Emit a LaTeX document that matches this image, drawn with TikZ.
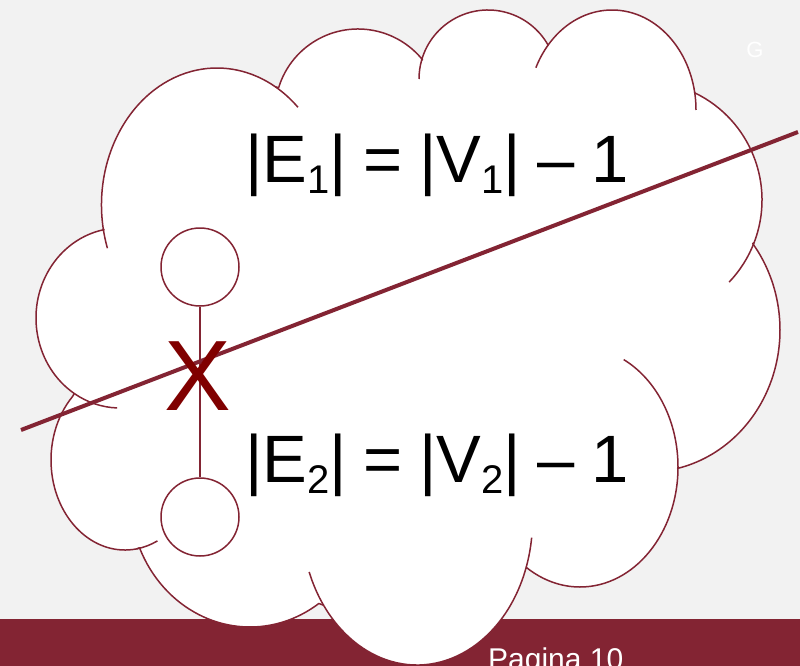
\documentclass[tikz,border=0pt]{standalone}
\usepackage{fontspec}
\setmainfont{Liberation Sans}
\usepackage{xcolor}

\definecolor{maroon}{RGB}{131,36,51}
\definecolor{xred}{RGB}{128,0,0}
\definecolor{slidebg}{RGB}{242,242,242}
\newcommand{\subs}[1]{\raisebox{-11pt}{\fontsize{40}{40}\selectfont #1}}
\newcommand{\eqspace}{\spaceskip=16.5pt\relax}

\begin{document}
\begin{tikzpicture}[x=1pt, y=-1pt, line join=round,
  cloudline/.style={draw=maroon, line width=1.5pt},
  vertex/.style={circle, draw=maroon, fill=white, line width=1.5pt, minimum size=78pt, inner sep=0pt},
  eqtext/.style={anchor=base west, inner sep=0pt, font=\fontsize{67}{67}\selectfont\eqspace}]
  \useasboundingbox (0,0) rectangle (800,666);
  \clip (0,0) rectangle (800,666);

  % Slide background and footer bar
  \fill[slidebg] (0,0) rectangle (800,666);
  \fill[maroon] (0,619) rectangle (800,666);

  % Lobe centres of the cloud
  \coordinate (cA) at (217,205);
  \coordinate (cB) at (358,112);
  \coordinate (cC) at (488,79);
  \coordinate (cD) at (612,110);
  \coordinate (cE) at (643,200);
  \coordinate (cF) at (648,330);
  \coordinate (cG) at (580,467);
  \coordinate (cH) at (417,520);
  \coordinate (cI) at (250,497);
  \coordinate (cJ) at (125,460);
  \coordinate (cK) at (120,318);

  % Cloud outline, lobe by lobe (clockwise from the upper left)
  \filldraw[fill=white, cloudline]
    ([shift={(cA)}]170:115.5 and 137) arc[start angle=170, end angle=300.4, x radius=115.5, y radius=137]
    -- ([shift={(cB)}]197:83) arc[start angle=197, end angle=321, radius=83]
    -- ([shift={(cC)}]196:69) arc[start angle=196, end angle=330.5, radius=69]
    -- ([shift={(cD)}]220:84 and 100) arc[start angle=220, end angle=350, x radius=84, y radius=100]
    -- ([shift={(cE)}]296:119) arc[start angle=296, end angle=381, radius=119]
    -- ([shift={(cF)}]322.5:132 and 142) arc[start angle=322.5, end angle=437, x radius=132, y radius=142]
    -- ([shift={(cG)}]0:98 and 120) arc[start angle=0, end angle=122.7, x radius=98, y radius=120]
    -- ([shift={(cH)}]19:115.5 and 145) arc[start angle=19, end angle=144, x radius=115.5, y radius=145]
    -- ([shift={(cI)}]55:120 and 130) arc[start angle=55, end angle=157, x radius=120, y radius=130]
    -- ([shift={(cJ)}]81:74 and 90) arc[start angle=81, end angle=225, x radius=74, y radius=90]
    -- ([shift={(cK)}]123:84 and 90) arc[start angle=123, end angle=259, x radius=84, y radius=90]
    -- cycle;

  % Inner ends of the lobes
  \draw[cloudline] ([shift={(cA)}]161.6:115.5 and 137) arc[start angle=161.6, end angle=170, x radius=115.5, y radius=137];
  \draw[cloudline] ([shift={(cA)}]300.4:115.5 and 137) arc[start angle=300.4, end angle=314.5, x radius=115.5, y radius=137];
  \draw[cloudline] ([shift={(cC)}]180:69) arc[start angle=180, end angle=196, radius=69];
  \draw[cloudline] ([shift={(cD)}]205:84 and 100) arc[start angle=205, end angle=220, x radius=84, y radius=100];
  \draw[cloudline] ([shift={(cD)}]350:84 and 100) arc[start angle=350, end angle=360, x radius=84, y radius=100];
  \draw[cloudline] ([shift={(cE)}]381:119) arc[start angle=381, end angle=403.6, radius=119];
  \draw[cloudline] ([shift={(cG)}]296.5:98 and 120) arc[start angle=296.5, end angle=360, x radius=98, y radius=120];
  \draw[cloudline] ([shift={(cH)}]7:115.5 and 145) arc[start angle=7, end angle=19, x radius=115.5, y radius=145];
  \draw[cloudline] ([shift={(cH)}]144:115.5 and 145) arc[start angle=144, end angle=159, x radius=115.5, y radius=145];
  \draw[cloudline] ([shift={(cJ)}]64:74 and 90) arc[start angle=64, end angle=81, x radius=74, y radius=90];
  \draw[cloudline] ([shift={(cK)}]92:84 and 90) arc[start angle=92, end angle=123, x radius=84, y radius=90];

  % The two vertices and the edge between them
  \node[vertex] (v1) at (200,267) {};
  \node[vertex] (v2) at (200,517) {};
  \draw[maroon, line width=1.5pt] (v1) -- (v2);

  % Cut line
  \coordinate (cut_L) at (21,430);
  \coordinate (cut_R) at (798,132);
  \draw[maroon, line width=4pt] (cut_L) -- (cut_R);

  % Equations
  \node[eqtext] (eq1) at (245,182) {|E\subs{1}| = |V\subs{1}| – 1};
  \node[eqtext] (eq2) at (245,482) {|E\subs{2}| = |V\subs{2}| – 1};

  % Removed edge mark
  \node[text=xred, inner sep=0pt, font=\fontsize{100}{100}\selectfont] (cut) at (198,376) {X};

  % Slide decorations
  \node[text=white, inner sep=0pt, font=\fontsize{22}{22}\selectfont] (gmark) at (755,50) {G};
  \node[text=white, anchor=base west, inner sep=0pt, font=\fontsize{30}{30}\selectfont] (pg) at (488,669) {Pagina 10};
\end{tikzpicture}
\end{document}
